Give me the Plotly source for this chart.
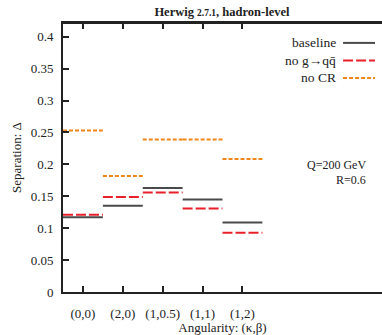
import plotly.graph_objects as go

categories = ["(0,0)", "(2,0)", "(1,0.5)", "(1,1)", "(1,2)"]
baseline = [0.117, 0.135, 0.163, 0.145, 0.109]
no_gqq = [0.121, 0.149, 0.156, 0.131, 0.093]
no_cr = [0.253, 0.182, 0.239, 0.239, 0.2085]
series_names = ["baseline", "no g\u2192qq\u0304", "no CR"]
ytick_vals = [0, 0.05, 0.1, 0.15, 0.2, 0.25, 0.3, 0.35, 0.4]
ytick_text = ["0", "0.05", "0.1", "0.15", "0.2", "0.25", "0.3", "0.35", "0.4"]

colors = ["#4a4a4a", "#e8202a", "#f0861a"]
dashes = ["solid", "10px,3px", "4px,2px"]
FONT = "Liberation Serif"


def steps(vals):
    xs, ys = [], []
    for i, v in enumerate(vals):
        c = i + 1
        xs += [c - 0.5, c + 0.5, None]
        ys += [v, v, None]
    return xs, ys


fig = go.Figure()
for vals, col, d, nm in zip([baseline, no_gqq, no_cr], colors, dashes, series_names):
    xs, ys = steps(vals)
    fig.add_trace(go.Scatter(x=xs, y=ys, mode="lines", showlegend=False, name=nm,
                             line=dict(color=col, width=2, dash=d),
                             hoverinfo="skip"))

fig.update_layout(
    width=382, height=335,
    margin=dict(l=63, r=0, t=23, b=43),
    paper_bgcolor="white", plot_bgcolor="white",
    font=dict(family=FONT, size=13, color="#222"),
    title=dict(text="<b>Herwig <span style='font-size:9.5px'>2.7.1</span>, hadron-level</b>",
               x=0.581, xanchor="center", y=0.964, yanchor="middle",
               font=dict(family=FONT, size=12.5, color="#222")),
    xaxis=dict(range=[0.5, 8.5], tickvals=[1, 2, 3, 4, 5], ticktext=categories,
               ticks="inside", ticklen=6, tickwidth=1.5, tickcolor="#222",
               showline=True, linecolor="#222", linewidth=2, mirror="ticks",
               showgrid=False, zeroline=False, ticklabelstandoff=8,
               tickfont=dict(family=FONT, size=13),
               title=dict(text="Angularity: (\u03ba,\u03b2)", standoff=2,
                          font=dict(family=FONT, size=13))),
    yaxis=dict(range=[0, 0.4216], tickvals=ytick_vals, ticktext=ytick_text,
               ticks="inside", ticklen=6, tickwidth=1.5, tickcolor="#222",
               showline=True, linecolor="#222", linewidth=2, mirror=False,
               showgrid=False, zeroline=False, ticklabelstandoff=5,
               tickfont=dict(family=FONT, size=13),
               title=dict(text="Separation: \u0394", standoff=6,
                          font=dict(family=FONT, size=13))),
    yaxis2=dict(overlaying="y", side="right", matches="y",
                tickvals=ytick_vals,
                ticks="inside", ticklen=6, tickwidth=1.5, tickcolor="#222",
                showline=False, showticklabels=False, showgrid=False, zeroline=False),
)

# top border line
fig.add_shape(type="line", xref="paper", yref="paper", x0=0, x1=1, y0=1, y1=1,
              line=dict(color="#222", width=2))

# legend drawn manually (text right-aligned, sample on the right)
leg_y = [0.926, 0.861, 0.796]
for t, col, d, yy in zip(series_names, colors, dashes, leg_y):
    fig.add_shape(type="line", xref="paper", yref="paper", x0=0.878, x1=0.978,
                  y0=yy, y1=yy, line=dict(color=col, width=2, dash=d))
    fig.add_annotation(text=t, xref="paper", yref="paper", x=0.862, y=yy,
                       xanchor="right", yanchor="middle", showarrow=False,
                       font=dict(family=FONT, size=13.5, color="#222"))

for t, yy in zip(["Q=200 GeV", "R=0.6"], [0.472, 0.416]):
    fig.add_annotation(text=t, xref="paper", yref="paper", x=0.955, y=yy,
                       xanchor="right", yanchor="middle", showarrow=False,
                       font=dict(family=FONT, size=12, color="#222"))

fig.write_html("out.html")
